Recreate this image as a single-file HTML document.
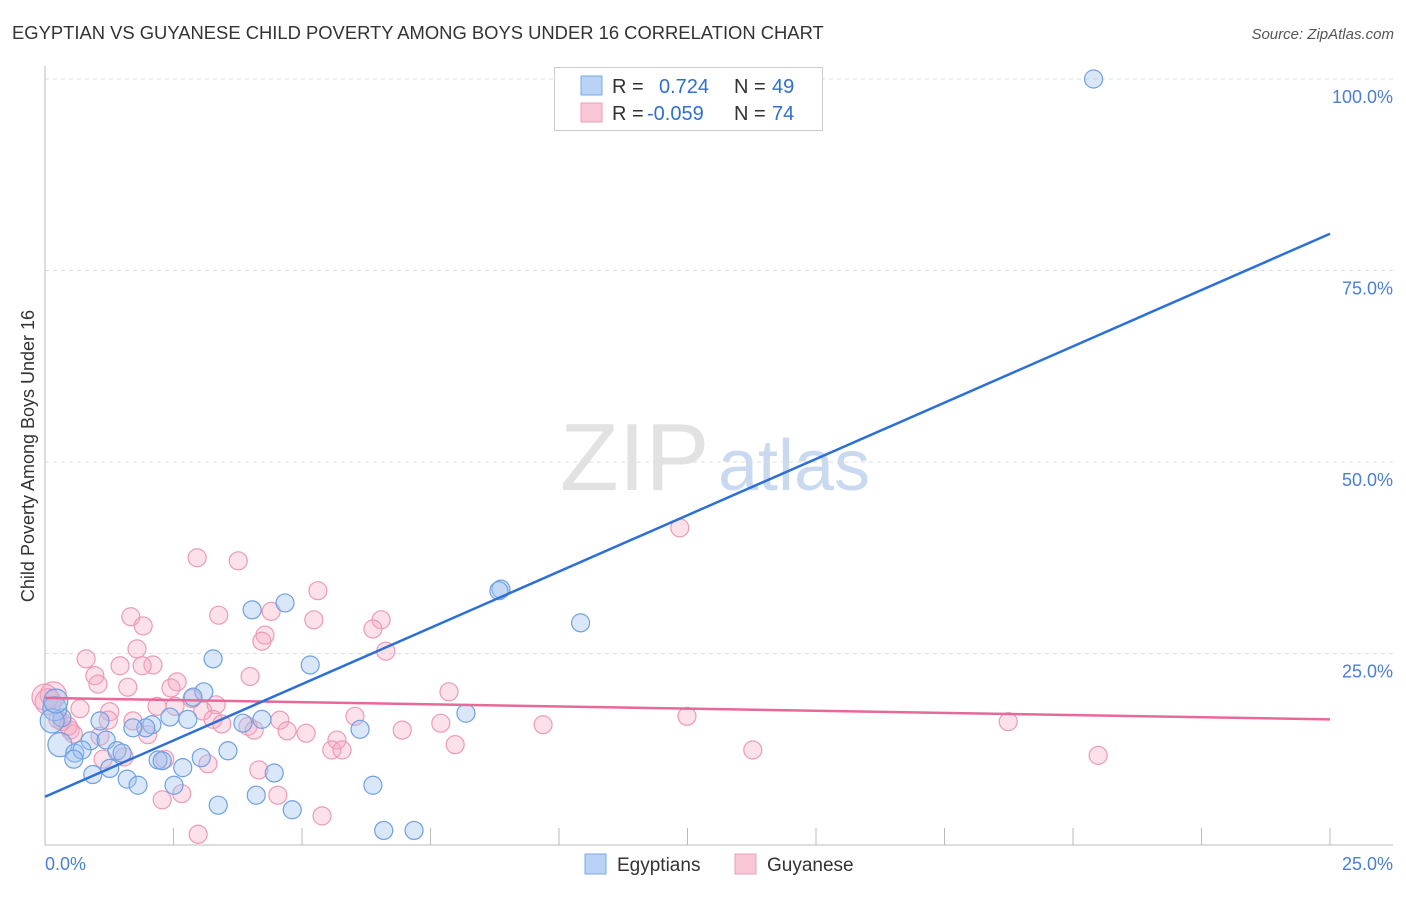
<!DOCTYPE html>
<html><head><meta charset="utf-8"><style>
body{margin:0;background:#fff;font-family:"Liberation Sans",sans-serif;}
svg text{font-family:"Liberation Sans",sans-serif;}
</style></head><body>
<svg id="chart" width="1406" height="892" viewBox="0 0 1406 892">
<text x="12" y="39" font-size="18.4" fill="#333">EGYPTIAN VS GUYANESE CHILD POVERTY AMONG BOYS UNDER 16 CORRELATION CHART</text>
<text x="1394" y="39" font-size="15" fill="#555" font-style="italic" text-anchor="end">Source: ZipAtlas.com</text>
<text x="560" y="490" font-size="96" fill="#e2e2e2" font-family="Liberation Serif">ZIP</text>
<text x="718" y="490" font-size="72" fill="#c9daf0">atlas</text>
<text transform="translate(34,456) rotate(-90)" font-size="18" fill="#333" text-anchor="middle">Child Poverty Among Boys Under 16</text>
<g id="grid"></g><g id="pts"></g><g id="lines"></g>
<g>
<rect x="554.5" y="67.5" width="268" height="63" fill="#fff" stroke="#ccc"/>
<rect x="581" y="76" width="21" height="19" fill="#b8d3f5" stroke="#7aa8e6"/>
<rect x="581" y="103" width="21" height="19" fill="#f9c6d6" stroke="#ee9fb8"/>
<text x="612" y="93" font-size="20" fill="#333">R =</text><text x="659" y="93" font-size="20" fill="#2f6fd0">0.724</text>
<text x="734" y="93" font-size="20" fill="#333">N =</text><text x="772" y="93" font-size="20" fill="#2f6fd0">49</text>
<text x="612" y="120" font-size="20" fill="#333">R =</text><text x="647" y="120" font-size="20" fill="#2f6fd0">-0.059</text>
<text x="734" y="120" font-size="20" fill="#333">N =</text><text x="772" y="120" font-size="20" fill="#2f6fd0">74</text>
</g>
<g>
<rect x="585" y="854" width="21" height="20" fill="#b8d3f5" stroke="#7aa8e6"/>
<text x="617" y="871" font-size="19" fill="#333">Egyptians</text>
<rect x="735" y="854" width="21" height="20" fill="#f9c6d6" stroke="#ee9fb8"/>
<text x="767" y="871" font-size="19" fill="#333">Guyanese</text>
</g>
<text x="45" y="870" font-size="18" fill="#4a7fd4">0.0%</text>
<text x="1393" y="870" font-size="18" fill="#4a7fd4" text-anchor="end">25.0%</text>
</svg>
<script>
const yTicks=[100,75,50,25];
const yTickLabels=["100.0%","75.0%","50.0%","25.0%"];
const xTicks=[2.5,5,7.5,10,12.5,15,17.5,20,22.5,25];
const egyX=[20.4,8.87,8.83,10.42,4.67,4.03,3.27,5.16,3.09,2.88,8.19,6.13,4.22,3.85,2.78,2.43,2.08,1.96,1.71,1.07,0.33,0.19,0.14,0.21,0.88,1.19,0.29,0.58,0.72,1.40,1.50,3.56,3.04,2.20,2.28,2.68,1.26,0.93,1.60,1.81,2.51,4.46,6.38,4.11,3.37,4.81,6.59,7.18,0.56];
const egyY=[100,33.4,33.2,29.0,31.6,30.7,24.3,23.5,20.0,19.3,17.2,15.1,16.4,15.9,16.4,16.7,15.7,15.3,15.3,16.2,16.6,17.8,16.2,18.8,13.6,13.7,13.1,12.0,12.4,12.3,12.0,12.3,11.4,11.1,11.0,10.1,10.0,9.2,8.6,7.8,7.8,9.4,7.8,6.5,5.2,4.6,1.9,1.9,11.2];
const guyX=[12.35,2.96,3.76,5.31,1.67,3.38,4.4,1.91,6.54,5.23,6.38,4.28,4.22,6.63,1.79,0.80,1.46,2.10,1.89,0.97,3.99,2.57,7.86,1.03,1.61,2.45,0.16,0,0.06,2.86,2.18,3.33,0.68,3.07,1.26,1.23,1.71,3.27,6.03,7.70,12.49,18.74,9.69,4.57,3.95,4.07,4.71,5.08,6.95,0.49,0.55,2.00,5.68,7.98,5.58,5.78,13.77,20.49,1.54,2.33,1.13,3.17,4.16,2.66,4.53,2.28,5.39,2.98,0.25,0.33,0.45,1.07,2.53,3.44];
const guyY=[41.4,37.5,37.1,33.2,29.8,30.0,30.5,28.6,29.4,29.4,28.2,27.4,26.6,25.3,25.6,24.3,23.4,23.5,23.4,22.1,22.0,21.3,20.0,21.0,20.6,20.5,19.6,19.3,18.7,19.1,18.1,18.3,17.8,17.5,17.4,16.3,16.2,16.4,16.8,15.9,16.8,16.1,15.7,16.3,15.5,15.0,14.9,14.6,15.0,15.0,14.5,14.4,13.7,13.1,12.4,12.4,12.4,11.7,11.5,11.2,11.2,10.6,9.8,6.7,6.5,5.9,3.8,1.4,16.4,16.1,15.5,14.2,18.1,15.8];
const egyFit=[6.3,79.8];
const guyFit=[19.2,16.4];
const X=v=>45+v/25*1285, Y=v=>845-v/100*766;
const NS="http://www.w3.org/2000/svg";
function mk(tag,attrs,parent){const e=document.createElementNS(NS,tag);for(const k in attrs)e.setAttribute(k,attrs[k]);parent.appendChild(e);return e;}
const grid=document.getElementById('grid');
yTicks.forEach((t,i)=>{
 const l=mk('line',{x1:45,x2:1393,y1:Y(t),y2:Y(t),stroke:'#ddd','stroke-dasharray':'4,4'},grid);
 
 
 const tx=mk('text',{x:1393,y:Y(t)+24,'font-size':18,fill:'#4a7fd4','text-anchor':'end'},grid);
 tx.textContent=yTickLabels[i];
 
 
});
const ax=mk('line',{x1:45,x2:45,y1:66,y2:845,stroke:'#bbb'},grid);


const bx=mk('line',{x1:45,x2:1393,y1:845,y2:845,stroke:'#bbb'},grid);


xTicks.forEach(t=>{const l=mk('line',{x1:X(t),x2:X(t),y1:828,y2:845,stroke:'#bbb'},grid);
 
 });
const pts=document.getElementById('pts');
guyX.forEach((v,i)=>{const c=mk('circle',{cx:X(v),cy:Y(guyY[i]),r:(v<0.3&&guyY[i]>17)?13:9,fill:'rgba(245,170,195,0.35)',stroke:'#ec9ab5','stroke-width':1.2},pts);
 
 });
egyX.forEach((v,i)=>{const c=mk('circle',{cx:X(v),cy:Y(egyY[i]),r:(v<0.3)?12:9,fill:'rgba(160,196,240,0.4)',stroke:'#6fa0e2','stroke-width':1.2},pts);
 
 });
const lines=document.getElementById('lines');
const l1=mk('line',{x1:X(0),y1:Y(guyFit[0]),x2:X(25),y2:Y(guyFit[1]),stroke:'#e8689a','stroke-width':2.5},lines);


const l2=mk('line',{x1:X(0),y1:Y(egyFit[0]),x2:X(25),y2:Y(egyFit[1]),stroke:'#2c6fd6','stroke-width':2.5},lines);


</script>
</body></html>
